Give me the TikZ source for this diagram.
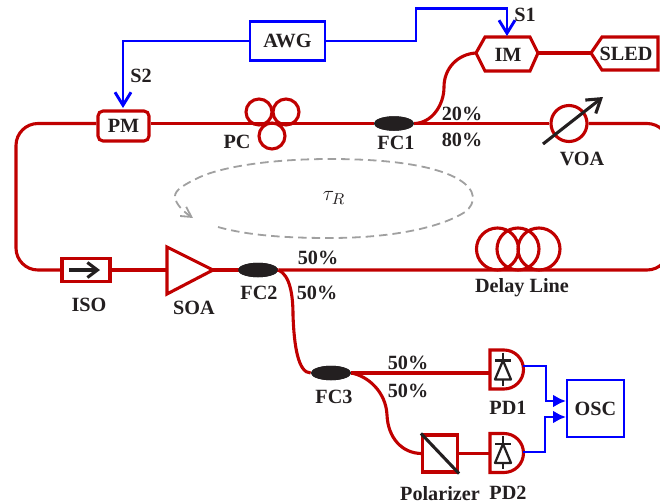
\documentclass[tikz,border=0pt]{standalone}
\usepackage{fontspec}
\setmainfont{Liberation Serif}
\usetikzlibrary{arrows.meta,shapes.geometric}
\definecolor{fib}{HTML}{C00000}
\definecolor{sig}{HTML}{0000FF}
\definecolor{ink}{HTML}{231F20}
\definecolor{loopgray}{HTML}{A0A0A0}
\tikzset{
  fibre/.style={draw=fib,line width=.062cm},
  wire/.style={draw=sig,line width=.058cm},
  openarrow/.style={-{Straight Barb[length=.26cm,width=.32cm,line width=.058cm]}},
  fillarrow/.style={-{Latex[length=.26cm,width=.26cm]}},
  lab/.style={font=\fontsize{11.5}{13}\selectfont\bfseries,text=ink,inner sep=0pt},
  elem/.style={fibre,fill=white,inner sep=0pt,font=\fontsize{11.5}{13}\selectfont\bfseries,text=ink},
  sigbox/.style={wire,fill=white,inner sep=0pt,font=\fontsize{11.5}{13}\selectfont\bfseries,text=ink},
  coupler/.style={ellipse,fill=ink,inner sep=0pt,minimum width=.8cm,minimum height=.29cm},
  ring/.style={fibre},
  inkline/.style={draw=ink,line width=.062cm},
  pics/pd/.style={code={
    \draw[fibre,fill=white] (0,-19.5) -- (14,-19.5) arc[start angle=-90,end angle=90,radius=19.5] -- (0,19.5) -- cycle;
    \draw[draw=ink,line width=.045cm] (13,-17) -- (13,-9) (13,10) -- (13,16) (5,-9) -- (21,-9);
    \draw[draw=ink,line width=.045cm,line join=round] (13,-9) -- (5,10) -- (21,10) -- cycle;
  }}
}
\begin{document}
\begin{tikzpicture}[x=.02cm,y=-.02cm]
\useasboundingbox (0,0) rectangle (660,504);
\clip (0,0) rectangle (660,504);
% named elements (positions)
\coordinate (trc) at (669,123.5);
\coordinate (brc) at (669,270);
\coordinate (tlc) at (16,123.5);
\coordinate (blc) at (16,270);
\coordinate (imL) at (476,53);
\coordinate (imR) at (538,53);
\coordinate (sledL) at (591,53);
\coordinate (soaL) at (167,270);
\coordinate (soaR) at (213,270);
\coordinate (pdaL) at (490,373);
\coordinate (pdbL) at (490,453.5);
\coordinate (pdaR) at (523,366);
\coordinate (pdbR) at (523,452);
\coordinate (oscA) at (566,401);
\coordinate (oscB) at (566,417);
\coordinate (imTop) at (507,36);
\coordinate (pmTop) at (123,108);

% fibre connectors
\node[coupler] (fc1) at (394,123.5) {};
\node[coupler] (fc2) at (258,270) {};
\node[coupler] (fc3) at (331,373) {};
\node[elem,rounded corners=.1cm,minimum width=1.02cm,minimum height=.6cm] (pm) at (123.5,126) {PM};
\node[elem,circle,minimum size=.72cm] (voa) at (569,123.5) {};
\node[elem,minimum width=.96cm,minimum height=.46cm] (iso) at (86,270) {};
\node[elem,minimum width=.7cm,minimum height=.74cm] (pol) at (440,453.5) {};
\draw[fibre,rounded corners=.44cm] (pm.west |- tlc) -- (tlc) -- (blc) -- (iso.west);
\draw[fibre] (iso.east) -- (soaL);
\draw[fibre] (soaR) -- (fc2.east);
\draw[fibre,rounded corners=.44cm] (fc2.east) -- (brc) -- (trc) -- (voa.east);
\draw[fibre] (voa.west) -- (fc1.east);
\draw[fibre] (fc1.west) -- (pm.east |- fc1.west);
\draw[fibre] (imR) -- (sledL);
\draw[fibre] (fc1.east) .. controls (432,123) and (444,105) .. (444,87) .. controls (444,68) and (458,54) .. (imL);
\draw[fibre] (fc2.east) .. controls (290,275) and (293,295) .. (293,315) .. controls (294,345) and (298,373) .. (fc3.west);
\draw[fibre] (fc3.east) -- (pdaL);
\draw[fibre] (fc3.east) .. controls (368,376) and (386,392) .. (387,415) .. controls (388,438) and (402,453) .. (pol.west);
\draw[fibre] (pol.east) -- (pdbL);

% redraw elements on top
\node[coupler] at (fc1) {};
\node[coupler] at (fc2) {};
\node[coupler] at (fc3) {};
\draw[fibre,fill=white,line join=miter] (imL) -- (485,37) -- (530,37) -- (imR) -- (530,71) -- (485,71) -- cycle;
\draw[fibre,fill=white,line join=miter] (sledL) -- (602,37) -- (658,37) -- (658,70) -- (602,70) -- cycle;
\draw[fibre,fill=white,line join=miter] (167,247) -- (soaR) -- (167,294) -- cycle;
\node[lab] (imt) at (508,55) {IM};
\node[lab] (sledt) at (626,53.5) {SLED};
\draw[ring] (259,112) circle[radius=13];
\draw[ring] (286,112) circle[radius=13];
\draw[ring] (272,136) circle[radius=13];
\draw[ring] (497.5,249) circle[radius=21];
\draw[ring] (518,249) circle[radius=21];
\draw[ring] (539,249) circle[radius=21];
\draw[inkline,-{Straight Barb[length=.26cm,width=.34cm,line width=.062cm]}] (543,144) -- (603,97);
\draw[inkline,-{Straight Barb[length=.2cm,width=.3cm,line width=.062cm]}] (69,270) -- (100,270);
\draw[inkline] (pol.north west) -- (pol.south east);
\pic at (490,369.5) {pd};
\pic at (490,453) {pd};

% signal wires
\node[sigbox,minimum width=1.5cm,minimum height=.78cm] (awg) at (287.5,41) {AWG};
\node[sigbox,minimum width=1.14cm,minimum height=1.14cm] (osc) at (595.5,408.5) {OSC};
\draw[wire,openarrow] (awg.east) -- (416,41) -- (416,8.5) -- (507,8.5) -- (imTop);
\draw[wire,openarrow] (awg.west) -- (123,41) -- (pmTop);
\draw[wire,fillarrow] (pdaR) -- (546,366) -- (546,401) -- (oscA);
\draw[wire,fillarrow] (pdbR) -- (545,452) -- (545,417) -- (oscB);

% roundtrip
\draw[draw=loopgray,line width=.036cm,dash pattern=on .17cm off .1cm,-{Straight Barb[length=.2cm,width=.22cm,line width=.036cm]}]
  (218,227) .. controls (250,236) and (290,238) .. (330,238)
  .. controls (390,238) and (440,228) .. (465,212)
  .. controls (487,195) and (470,159) .. (330,159)
  .. controls (270,159) and (222,167) .. (200,177)
  .. controls (185,184) and (175,190) .. (175,196)
  .. controls (175,204) and (184,212) .. (193,218);
\node[inner sep=0pt,text=ink,font=\fontsize{13}{14}\selectfont] (tau) at (334,198) {$\tau_R$};

% labels
\node[lab] (s1) at (525,15) {S1};
\node[lab] (s2) at (141,76) {S2};
\node[lab] (pct) at (237,142) {PC};
\node[lab] (fc1t) at (396,143) {FC1};
\node[lab] (p20) at (462,114) {20\%};
\node[lab] (p80) at (462,140) {80\%};
\node[lab] (voat) at (582,159) {VOA};
\node[lab] (isot) at (89,305) {ISO};
\node[lab] (soat) at (194,308) {SOA};
\node[lab] (fc2t) at (259,293) {FC2};
\node[lab] (p50a) at (318,258) {50\%};
\node[lab] (p50b) at (317,293) {50\%};
\node[lab] (dlt) at (522,288) {Delay Line};
\node[lab] (fc3t) at (334,397) {FC3};
\node[lab] (p50c) at (408,363) {50\%};
\node[lab] (p50d) at (408,391) {50\%};
\node[lab] (pd1t) at (508,408) {PD1};
\node[lab] (pd2t) at (508,493) {PD2};
\node[lab] (polt) at (440,494) {Polarizer};
\end{tikzpicture}
\end{document}
